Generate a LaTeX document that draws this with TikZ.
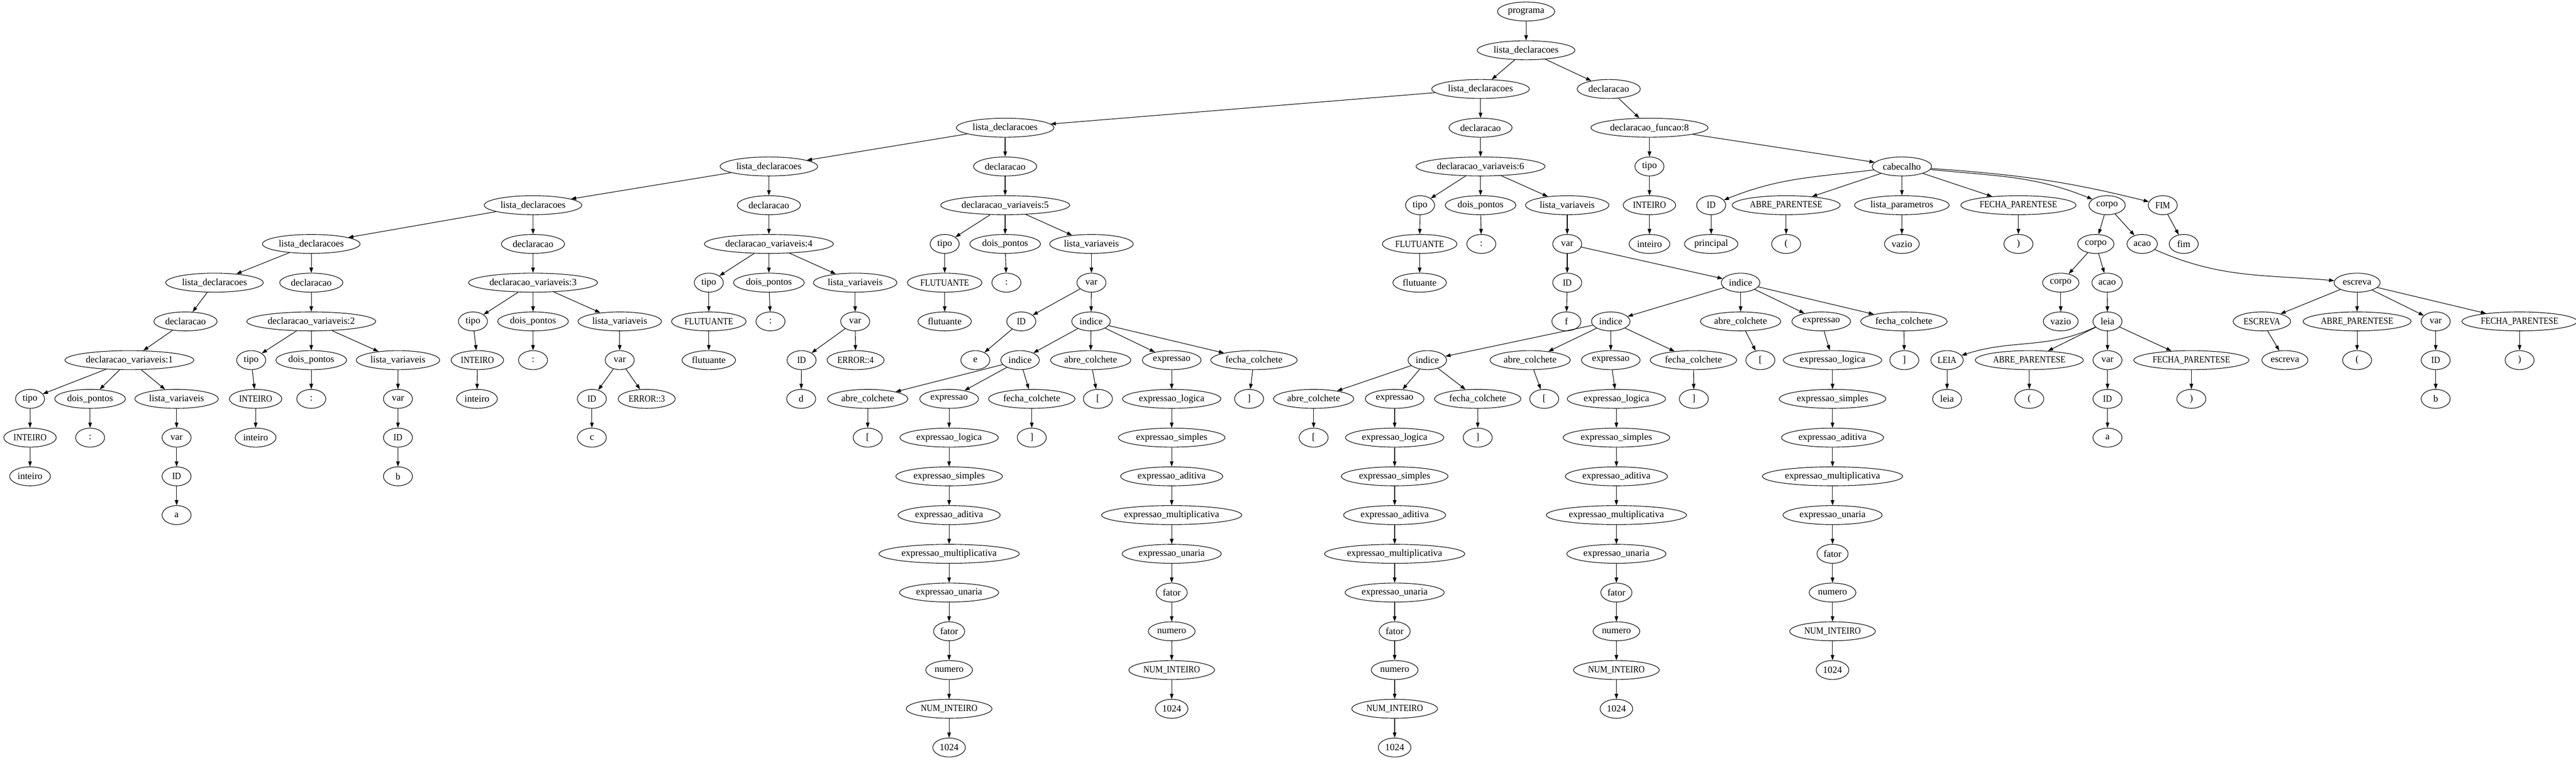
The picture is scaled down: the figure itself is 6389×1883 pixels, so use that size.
\documentclass[tikz,border=0pt]{standalone}
\usepackage{fontspec}
\setmainfont{Liberation Serif}
\usepackage{graphicx}
\usetikzlibrary{shapes.geometric,arrows.meta}
\newcommand\UC[1]{\scalebox{0.87}[1]{#1}}
\newcommand\xchain[4]{%
  \node[nd] (#1-1) at (#2,{28.5+96*#3}) {expressao};
  \foreach \lab [count=\i from 2] in {expressao\_logica,expressao\_simples,expressao\_aditiva,expressao\_multiplicativa,expressao\_unaria,fator,numero,\UC{NUM\_INTEIRO},1024}{%
    \node[nd] (#1-\i) at (#4,{28.5+96*(#3+\i-1)}) {\lab};}
  \foreach \i [evaluate=\i as \j using int(\i+1)] in {1,...,9}{\draw[edg] (#1-\i) -- (#1-\j);}
}
\begin{document}
\begin{tikzpicture}[x=1pt,y=-1pt,
  nd/.style={ellipse,draw,line width=1.4pt,minimum width=72pt,minimum height=47pt,inner xsep=5pt,inner ysep=1pt,font=\fontsize{23.6}{28}\selectfont},
  edg/.style={line width=1.4pt,-{Triangle[length=13pt,width=9pt]}}]
\useasboundingbox (0,0) rectangle (6389,1883);
% rank 0-4
\node[nd] (prog) at (3785,28.5) {programa};
\node[nd] (l1) at (3785,124.5) {lista\_declaracoes};
\node[nd] (l2) at (3672,220.5) {lista\_declaracoes};
\node[nd] (d7) at (3990,220.5) {declaracao};
\node[nd] (l3) at (2493,316.5) {lista\_declaracoes};
\node[nd] (d6) at (3672,316.5) {declaracao};
\node[nd] (df) at (4091,316.5) {declaracao\_funcao:8};
\node[nd] (l4) at (1907,412.5) {lista\_declaracoes};
\node[nd] (d5) at (2493,412.5) {declaracao};
\node[nd] (dv6) at (3672,412.5) {declaracao\_variaveis:6};
\node[nd] (ft) at (4091,412.5) {tipo};
\node[nd] (cab) at (4717,412.5) {cabecalho};
% rank 5
\node[nd] (l5) at (1322,508.5) {lista\_declaracoes};
\node[nd] (d4) at (1907,508.5) {declaracao};
\node[nd] (dv5) at (2493,508.5) {declaracao\_variaveis:5};
\node[nd] (t6) at (3522,508.5) {tipo};
\node[nd] (dp6) at (3672,508.5) {dois\_pontos};
\node[nd] (lv6) at (3887,508.5) {lista\_variaveis};
\node[nd] (fI) at (4091,508.5) {\UC{INTEIRO}};
\node[nd] (cid) at (4244,508.5) {\UC{ID}};
\node[nd] (cap) at (4430,508.5) {\UC{ABRE\_PARENTESE}};
\node[nd] (clp) at (4717,508.5) {lista\_parametros};
\node[nd] (cfp) at (5006,508.5) {\UC{FECHA\_PARENTESE}};
\node[nd] (cc) at (5226,508.5) {corpo};
\node[nd] (cfim) at (5364,508.5) {\UC{FIM}};
% rank 6
\node[nd] (l6) at (772,604.5) {lista\_declaracoes};
\node[nd] (d3) at (1322,604.5) {declaracao};
\node[nd] (dv4) at (1907,604.5) {declaracao\_variaveis:4};
\node[nd] (t5) at (2343,604.5) {tipo};
\node[nd] (dp5) at (2493,604.5) {dois\_pontos};
\node[nd] (lv5) at (2707,604.5) {lista\_variaveis};
\node[nd] (F6) at (3521,604.5) {\UC{FLUTUANTE}};
\node[nd] (c6) at (3674,604.5) {:};
\node[nd] (v6) at (3887,604.5) {var};
\node[nd] (fi) at (4091,604.5) {inteiro};
\node[nd] (prin) at (4244,604.5) {principal};
\node[nd] (pa) at (4430,604.5) {(};
\node[nd] (vz) at (4717,604.5) {vazio};
\node[nd] (pf) at (5006,604.5) {)};
\node[nd] (cc2) at (5198,604.5) {corpo};
\node[nd] (ac1) at (5313,604.5) {acao};
\node[nd] (fim) at (5416,604.5) {fim};
% rank 7
\node[nd] (l7) at (532,700.5) {lista\_declaracoes};
\node[nd] (d2) at (772,700.5) {declaracao};
\node[nd] (dv3) at (1322,700.5) {declaracao\_variaveis:3};
\node[nd] (t4) at (1758,700.5) {tipo};
\node[nd] (dp4) at (1907,700.5) {dois\_pontos};
\node[nd] (lv4) at (2121,700.5) {lista\_variaveis};
\node[nd] (F5) at (2343,700.5) {\UC{FLUTUANTE}};
\node[nd] (c5) at (2496,700.5) {:};
\node[nd] (v5) at (2707,700.5) {var};
\node[nd] (f6) at (3521,700.5) {flutuante};
\node[nd] (id6) at (3887,700.5) {\UC{ID}};
\node[nd] (ix6) at (4317,700.5) {indice};
\node[nd] (cc3) at (5111,700.5) {corpo};
\node[nd] (ac2) at (5226,700.5) {acao};
\node[nd] (esc) at (5846,700.5) {escreva};
% rank 8
\node[nd] (d1) at (460,796.5) {declaracao};
\node[nd] (dv2) at (772,796.5) {declaracao\_variaveis:2};
\node[nd] (t3) at (1173,796.5) {tipo};
\node[nd] (dp3) at (1322,796.5) {dois\_pontos};
\node[nd] (lv3) at (1537,796.5) {lista\_variaveis};
\node[nd] (F4) at (1758,796.5) {\UC{FLUTUANTE}};
\node[nd] (c4) at (1911,796.5) {:};
\node[nd] (v4) at (2121,796.5) {var};
\node[nd] (f5) at (2343,796.5) {flutuante};
\node[nd] (id5) at (2533,796.5) {\UC{ID}};
\node[nd] (ix5) at (2706,796.5) {indice};
\node[nd] (ff) at (3885,796.5) {f};
\node[nd] (ix6b) at (3995,796.5) {indice};
\node[nd] (ab6) at (4317,796.5) {abre\_colchete};
\node[nd] (fc6) at (4722,796.5) {fecha\_colchete};
\node[nd] (vz2) at (5111,796.5) {vazio};
\node[nd] (le) at (5227,796.5) {leia};
\node[nd] (ESC) at (5610,796.5) {\UC{ESCREVA}};
\node[nd] (AP2) at (5846,796.5) {\UC{ABRE\_PARENTESE}};
\node[nd] (var2) at (6041,796.5) {var};
\node[nd] (FP2) at (6249,796.5) {\UC{FECHA\_PARENTESE}};
% rank 9
\node[nd] (dv1) at (321,892.5) {declaracao\_variaveis:1};
\node[nd] (t2) at (623,892.5) {tipo};
\node[nd] (dp2) at (772,892.5) {dois\_pontos};
\node[nd] (lv2) at (987,892.5) {lista\_variaveis};
\node[nd] (I3) at (1184,892.5) {\UC{INTEIRO}};
\node[nd] (c3) at (1322,892.5) {:};
\node[nd] (v3) at (1537,892.5) {var};
\node[nd] (f4) at (1758,892.5) {flutuante};
\node[nd] (id4) at (1988,892.5) {\UC{ID}};
\node[nd] (er4) at (2122,892.5) {\UC{ERROR::4}};
\node[nd] (ee) at (2419,892.5) {e};
\node[nd] (ix5b) at (2530,892.5) {indice};
\node[nd] (ab5) at (2705,892.5) {abre\_colchete};
\node[nd] (fc5) at (3110,892.5) {fecha\_colchete};
\node[nd] (ix6c) at (3540,892.5) {indice};
\node[nd] (ab6b) at (3795,892.5) {abre\_colchete};
\node[nd] (fc6b) at (4200,892.5) {fecha\_colchete};
\node[nd] (ob6) at (4366,892.5) {[};
\node[nd] (cb6) at (4723,892.5) {]};
\node[nd] (LEIA) at (4829,892.5) {\UC{LEIA}};
\node[nd] (AP1) at (5033,892.5) {\UC{ABRE\_PARENTESE}};
\node[nd] (var1) at (5227,892.5) {var};
\node[nd] (FP1) at (5435,892.5) {\UC{FECHA\_PARENTESE}};
\node[nd] (esc2) at (5667,892.5) {escreva};
\node[nd] (pa2) at (5846,892.5) {(};
\node[nd] (id8) at (6041,892.5) {\UC{ID}};
\node[nd] (pf2) at (6249,892.5) {)};
% rank 10
\node[nd] (t1) at (74.5,988.5) {tipo};
\node[nd] (dp1) at (223.5,988.5) {dois\_pontos};
\node[nd] (lv1) at (438,988.5) {lista\_variaveis};
\node[nd] (I2) at (634,988.5) {\UC{INTEIRO}};
\node[nd] (c2) at (772,988.5) {:};
\node[nd] (v2) at (987,988.5) {var};
\node[nd] (i3) at (1183,988.5) {inteiro};
\node[nd] (id3) at (1468,988.5) {\UC{ID}};
\node[nd] (er3) at (1604,988.5) {\UC{ERROR::3}};
\node[nd] (dd) at (1987,988.5) {d};
\node[nd] (ab5b) at (2152,988.5) {abre\_colchete};
\node[nd] (fc5b) at (2559,988.5) {fecha\_colchete};
\node[nd] (ob5) at (2723,988.5) {[};
\node[nd] (cb5) at (3098,988.5) {]};
\node[nd] (ab6c) at (3258,988.5) {abre\_colchete};
\node[nd] (fc6c) at (3665,988.5) {fecha\_colchete};
\node[nd] (ob6b) at (3830,988.5) {[};
\node[nd] (cb6b) at (4201,988.5) {]};
\node[nd] (leia2) at (4829,988.5) {leia};
\node[nd] (pa1) at (5033,988.5) {(};
\node[nd] (id7) at (5227,988.5) {\UC{ID}};
\node[nd] (pf1) at (5435,988.5) {)};
\node[nd] (bb) at (6041,988.5) {b};
% rank 11
\node[nd] (I1) at (74.5,1084.5) {\UC{INTEIRO}};
\node[nd] (c1) at (223.5,1084.5) {:};
\node[nd] (v1) at (438,1084.5) {var};
\node[nd] (i2) at (634,1084.5) {inteiro};
\node[nd] (id2) at (987,1084.5) {\UC{ID}};
\node[nd] (cc4) at (1468,1084.5) {c};
\node[nd] (ob5b) at (2152,1084.5) {[};
\node[nd] (cb5b) at (2559,1084.5) {]};
\node[nd] (ob6c) at (3258,1084.5) {[};
\node[nd] (cb6c) at (3665,1084.5) {]};
\node[nd] (aa) at (5227,1084.5) {a};
% rank 12-13
\node[nd] (i1) at (74.5,1180.5) {inteiro};
\node[nd] (id1) at (438,1180.5) {\UC{ID}};
\node[nd] (b1) at (987,1180.5) {b};
\node[nd] (a1) at (438,1276.5) {a};
% expression chains
\xchain{A}{2354}{10}{2354}
\xchain{B}{2906}{9}{2906}
\xchain{C}{3459}{10}{3459}
\xchain{D}{3995}{9}{4009}
\xchain{E}{4517}{8}{4545}
% edges
\foreach \a/\b in {prog/l1,l1/l2,l1/d7,l2/l3,l2/d6,l3/l4,l3/d5,l4/l5,l4/d4,l5/l6,l5/d3,l6/l7,l6/d2,l7/d1,
  d1/dv1,dv1/t1,dv1/dp1,dv1/lv1,t1/I1,I1/i1,dp1/c1,lv1/v1,v1/id1,id1/a1,
  d2/dv2,dv2/t2,dv2/dp2,dv2/lv2,t2/I2,I2/i2,dp2/c2,lv2/v2,v2/id2,id2/b1,
  d3/dv3,dv3/t3,dv3/dp3,dv3/lv3,t3/I3,I3/i3,dp3/c3,lv3/v3,v3/id3,v3/er3,id3/cc4,
  d4/dv4,dv4/t4,dv4/dp4,dv4/lv4,t4/F4,F4/f4,dp4/c4,lv4/v4,v4/id4,v4/er4,id4/dd,
  d5/dv5,dv5/t5,dv5/dp5,dv5/lv5,t5/F5,F5/f5,dp5/c5,lv5/v5,v5/id5,v5/ix5,id5/ee,
  ix5/ix5b,ix5/ab5,ix5/B-1,ix5/fc5,ix5b/ab5b,ix5b/A-1,ix5b/fc5b,ab5b/ob5b,fc5b/cb5b,ab5/ob5,fc5/cb5,
  d6/dv6,dv6/t6,dv6/dp6,dv6/lv6,t6/F6,F6/f6,dp6/c6,lv6/v6,v6/id6,v6/ix6,id6/ff,
  ix6/ix6b,ix6/ab6,ix6/E-1,ix6/fc6,ix6b/ix6c,ix6b/ab6b,ix6b/D-1,ix6b/fc6b,
  ix6c/ab6c,ix6c/C-1,ix6c/fc6c,ab6c/ob6c,fc6c/cb6c,ab6b/ob6b,fc6b/cb6b,ab6/ob6,fc6/cb6,
  d7/df,df/ft,df/cab,ft/fI,fI/fi,cab/cap,cab/clp,cab/cfp,cid/prin,cap/pa,clp/vz,cfp/pf,
  cc/cc2,cc/ac1,cc2/cc3,cc2/ac2,cc3/vz2,ac2/le,le/AP1,le/var1,le/FP1,LEIA/leia2,AP1/pa1,
  var1/id7,id7/aa,FP1/pf1,esc/ESC,esc/AP2,esc/var2,esc/FP2,ESC/esc2,AP2/pa2,var2/id8,id8/bb,FP2/pf2,cfim/fim}
  {\draw[edg] (\a) -- (\b);}
% curved edges
\draw[edg] (cab) to[out=187,in=22] (cid);
\draw[edg] (cab) to[out=-6,in=158] (cc);
\draw[edg] (cab) to[out=-4,in=166] (cfim);
\draw[edg] (le) to[out=205,in=18] (LEIA);
\draw[edg] (ac1) to[out=-24,in=175] (esc);
\end{tikzpicture}
\end{document}
